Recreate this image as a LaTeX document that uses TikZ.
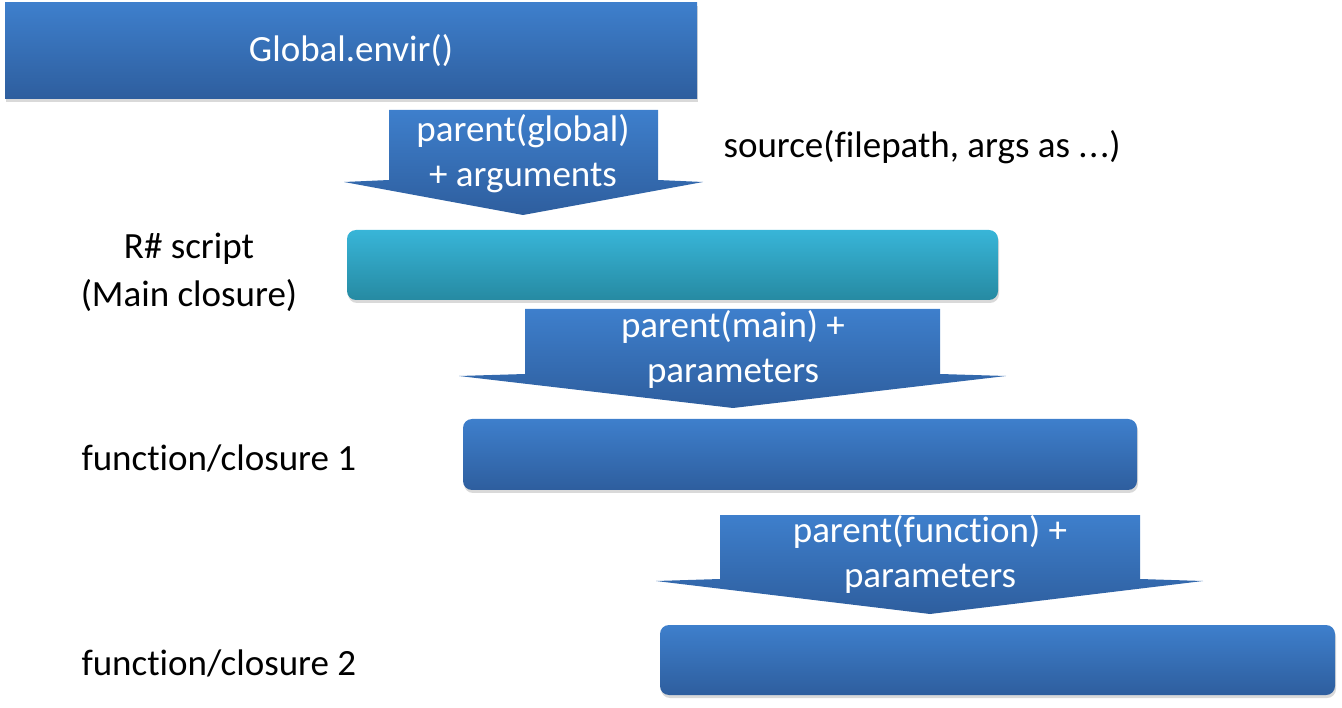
\documentclass[tikz,border=0pt]{standalone}
\usepackage{xcolor}
\usepackage{fontspec}
\setmainfont[Ligatures={NoCommon,NoContextual}]{Carlito}
\usepackage{tikz}
\usetikzlibrary{shadows}

\definecolor{blueTop}{RGB}{62,127,204}
\definecolor{blueBot}{RGB}{46,94,158}
\definecolor{cyanTop}{RGB}{56,181,216}
\definecolor{cyanBot}{RGB}{38,138,162}

\begin{document}
\begin{tikzpicture}[x=1pt,y=-1pt,
      env box/.style={top color=blueTop, bottom color=blueBot, inner sep=0pt,
        drop shadow={opacity=0.3, shadow xshift=1pt, shadow yshift=-3pt}},
      main box/.style={env box, rounded corners=9pt, top color=cyanTop, bottom color=cyanBot},
      fun box/.style={env box, rounded corners=9pt},
      flow arrow/.style={top color=blueTop, bottom color=blueBot},
      arrow text/.style={text=white, align=center, font=\fontsize{37}{45}\selectfont},
      side text/.style={align=center, font=\fontsize{37}{48}\selectfont}]

    \useasboundingbox (0,0) rectangle (1342,708);

    % environments
    \node[env box, minimum width=692pt, minimum height=96pt] (global) at (351,51)
        {\textcolor{white}{\fontsize{37}{45}\selectfont Global.envir()}};
    \node[main box, minimum width=651pt, minimum height=70pt] (main) at (672.5,265) {};
    \node[fun box, minimum width=674pt, minimum height=71pt] (f1) at (800,454.5) {};
    \node[fun box, minimum width=675pt, minimum height=70pt] (f2) at (997.5,660) {};

    % block arrows
    \path[flow arrow] (389,110) -- (658,110) -- (658,180) -- (703,182) -- (523,215)
        -- (344,182) -- (389,180) -- cycle;
    \path[flow arrow] (525,309) -- (940,309) -- (940,374) -- (1006,376) -- (733,408)
        -- (459,376) -- (525,374) -- cycle;
    \path[flow arrow] (720,515) -- (1140,515) -- (1140,579) -- (1203,581) -- (930,614)
        -- (656,581) -- (720,579) -- cycle;

    \node[arrow text] (a1) at (523,154) {parent(global)\\+ arguments};
    \node[arrow text] (a2) at (733,349) {parent(main) +\\parameters};
    \node[arrow text] (a3) at (930,554) {parent(function) +\\parameters};

    % labels
    \node[side text, anchor=west] (src) at (720,147) {source(filepath, args as .\kern1.5pt.\kern1.5pt.)};
    \node[side text] (rs) at (189,272) {R\# script\\(Main closure)};
    \node[side text, anchor=west] (l1) at (78,458) {function/closure 1};
    \node[side text, anchor=west] (l2) at (78,663) {function/closure 2};
\end{tikzpicture}
\end{document}
